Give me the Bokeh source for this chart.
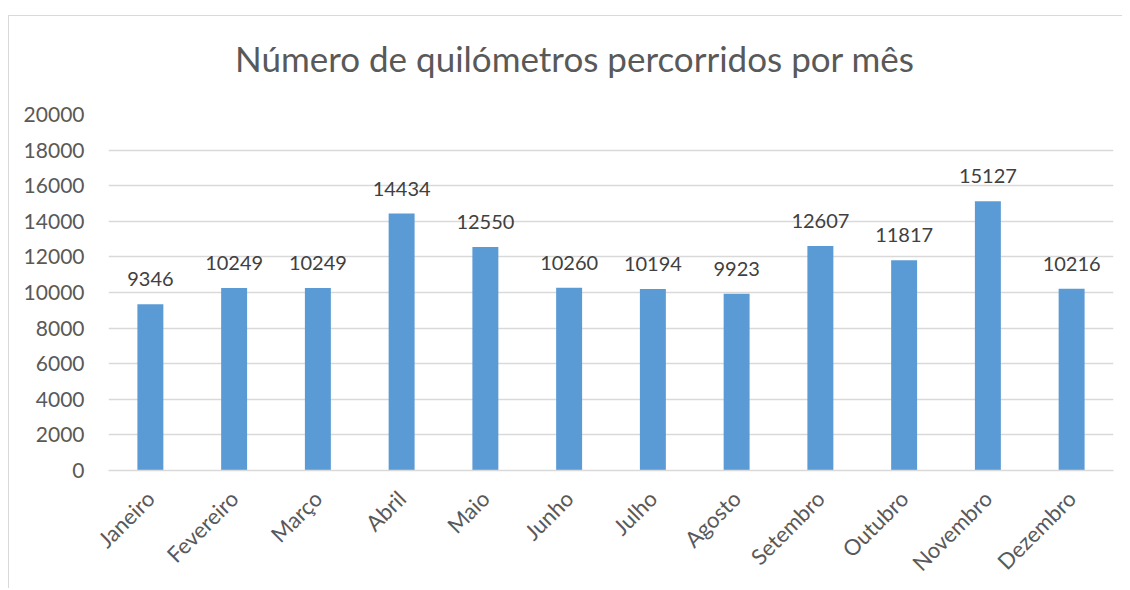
from bokeh.plotting import figure
from bokeh.models import ColumnDataSource, FactorRange, Range1d, FixedTicker, Div
from bokeh.layouts import column
from bokeh.core.properties import value
from bokeh.embed import file_html
from bokeh.resources import INLINE
import math

months = ["Janeiro", "Fevereiro", "Março", "Abril", "Maio", "Junho", "Julho",
          "Agosto", "Setembro", "Outubro", "Novembro", "Dezembro"]
km = [9346, 10249, 10249, 14434, 12550, 10260, 10194, 9923, 12607, 11817, 15127, 10216]
y_ticks = [0, 2000, 4000, 6000, 8000, 10000, 12000, 14000, 16000, 18000, 20000]
title_text = "Número de quilómetros percorridos por mês"

FONT = "Lato"
src = ColumnDataSource(dict(m=months, v=km, t=[str(k) for k in km]))

title = Div(text=title_text, width=1113, height=84, margin=0,
            styles={"font-family": FONT, "font-size": "35px", "color": "#595959",
                    "text-align": "center", "line-height": "1", "padding-top": "25px",
                    "padding-left": "18px", "box-sizing": "border-box",
                    "background": "white"})

p = figure(x_range=FactorRange(*months, range_padding=0),
           y_range=Range1d(0, 20000), margin=0,
           width=1113, height=488, output_backend="svg", toolbar_location=None,
           min_border_left=99, min_border_right=9, min_border_top=14, min_border_bottom=118)
p.outline_line_color = None
p.background_fill_color = "white"
p.border_fill_color = "white"

p.vbar(x="m", top="v", width=0.31, source=src, color="#5B9BD5", line_color=None)
p.text(x="m", y="v", text="t", source=src, text_align="center", text_baseline="alphabetic",
       y_offset=-25, text_font=value(FONT), text_font_size="20px", text_color="#404040")

p.xgrid.grid_line_color = None
p.ygrid.grid_line_color = "#d9d9d9"
p.ygrid.grid_line_width = 1.3
p.yaxis.ticker = FixedTicker(ticks=y_ticks)
p.yaxis.axis_line_color = None
p.yaxis.major_tick_line_color = None
p.yaxis.minor_tick_line_color = None
p.yaxis.major_label_standoff = 18
p.yaxis.major_label_text_font = FONT
p.yaxis.major_label_text_font_size = "21px"
p.yaxis.major_label_text_color = "#595959"

p.xaxis.axis_line_color = "#d9d9d9"
p.xaxis.axis_line_width = 1.3
p.xaxis.major_tick_line_color = None
p.xaxis.minor_tick_line_color = None
p.xaxis.major_label_orientation = math.pi / 4
p.xaxis.major_label_standoff = 18
p.xaxis.major_label_text_font = FONT
p.xaxis.major_label_text_font_size = "22px"
p.xaxis.major_label_text_color = "#595959"

layout = column(title, p, spacing=0)
layout.styles = {"border-left": "1px solid #d9d9d9", "border-top": "1px solid #d9d9d9",
                 "margin-top": "15px", "margin-left": "8px"}

open("out.html", "w").write(file_html(layout, INLINE))
